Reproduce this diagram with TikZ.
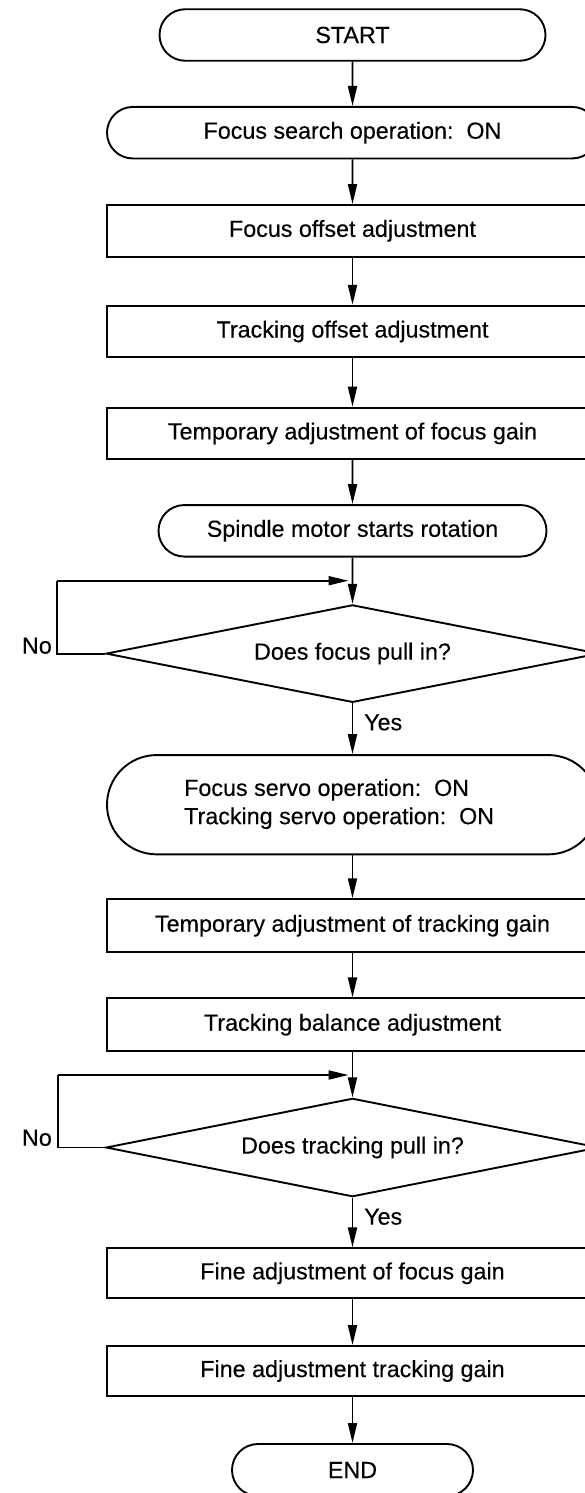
\documentclass[tikz,border=0pt]{standalone}
\usepackage{fontspec}
\setmainfont{Liberation Sans}[FakeBold=0.3]
\usetikzlibrary{arrows.meta,shapes.geometric,shapes.misc}
\begin{document}
\begin{tikzpicture}[x=1pt,y=-1pt,
  every node/.style={font=\fontsize{23.3}{28.3}\selectfont, inner sep=0pt},
  box/.style={draw, line width=1.9pt, minimum width=491pt, minimum height=51.5pt},
  term/.style={box, rounded rectangle},
  dec/.style={draw, line width=1.9pt, diamond, aspect=5.07, minimum width=493pt, minimum height=97.5pt},
  arr/.style={line width=1.9pt, -{Triangle[length=20pt,width=9pt]}},
  ln/.style={line width=1.9pt}]
\useasboundingbox (0,0) rectangle (585,1493);

\node[term, minimum width=386pt] (start) at (352.5,35) {START};
\node[term] (search) at (352.5,132.7) {Focus search operation:\ \ ON};
\node[box] (foff) at (352.5,230.8) {Focus offset adjustment};
\node[box] (toff) at (352.5,331.5) {Tracking offset adjustment};
\node[box] (tfg) at (352.5,433.4) {Temporary adjustment of focus gain};
\node[term, minimum width=388pt] (spin) at (352.5,530.8) {Spindle motor starts rotation};
\node[dec] (d1) at (352.5,653.6) {Does focus pull in?};
\node[term, minimum height=99.3pt] (fservo) at (352.5,804.7) {};
\node[align=left, anchor=west] (fservotxt) at (184,804) {Focus servo operation:\ \ ON\\Tracking servo operation:\ \ ON};
\node[box, minimum height=53pt] (ttg) at (352.5,925.7) {Temporary adjustment of tracking gain};
\node[box, minimum height=52.7pt] (tbal) at (352.5,1024.7) {Tracking balance adjustment};
\node[dec, minimum height=98.4pt] (d2) at (352.5,1147.5) {Does tracking pull in?};
\node[box, minimum height=50pt] (ffg) at (352.5,1273.3) {Fine adjustment of focus gain};
\node[box, minimum height=50pt] (ftg) at (352.5,1371) {Fine adjustment tracking gain};
\node[term, minimum width=241pt, minimum height=52pt] (end) at (352.5,1470) {END};

\draw[arr] (start) -- (search);
\draw[arr] (search) -- (foff);
\draw[arr] (foff) -- (toff);
\draw[arr] (toff) -- (tfg);
\draw[arr] (tfg) -- (spin);
\draw[arr] (spin) -- (d1);
\draw[arr] (d1) -- (fservo);
\draw[arr] (fservo) -- (ttg);
\draw[arr] (ttg) -- (tbal);
\draw[arr] (tbal) -- (d2);
\draw[arr] (d2) -- (ffg);
\draw[arr] (ffg) -- (ftg);
\draw[arr] (ftg) -- (end);

\coordinate (c1) at (57.3,580.7);
\coordinate (j1) at (352.5,580.7);
\draw[ln] (d1.west) -| (c1);
\draw[arr, shorten >=4pt] (c1) -- (j1);
\coordinate (c2) at (58.3,1075);
\coordinate (j2) at (352.5,1075);
\draw[ln] (d2.west) -| (c2);
\draw[arr, shorten >=4pt] (c2) -- (j2);

\node[anchor=base east] (no1) at (52,653.6) {No};
\node[anchor=base east] (no2) at (52,1145.7) {No};
\node[anchor=base west] (yes1) at (364,730.3) {Yes};
\node[anchor=base west] (yes2) at (364,1224.6) {Yes};
\end{tikzpicture}
\end{document}
